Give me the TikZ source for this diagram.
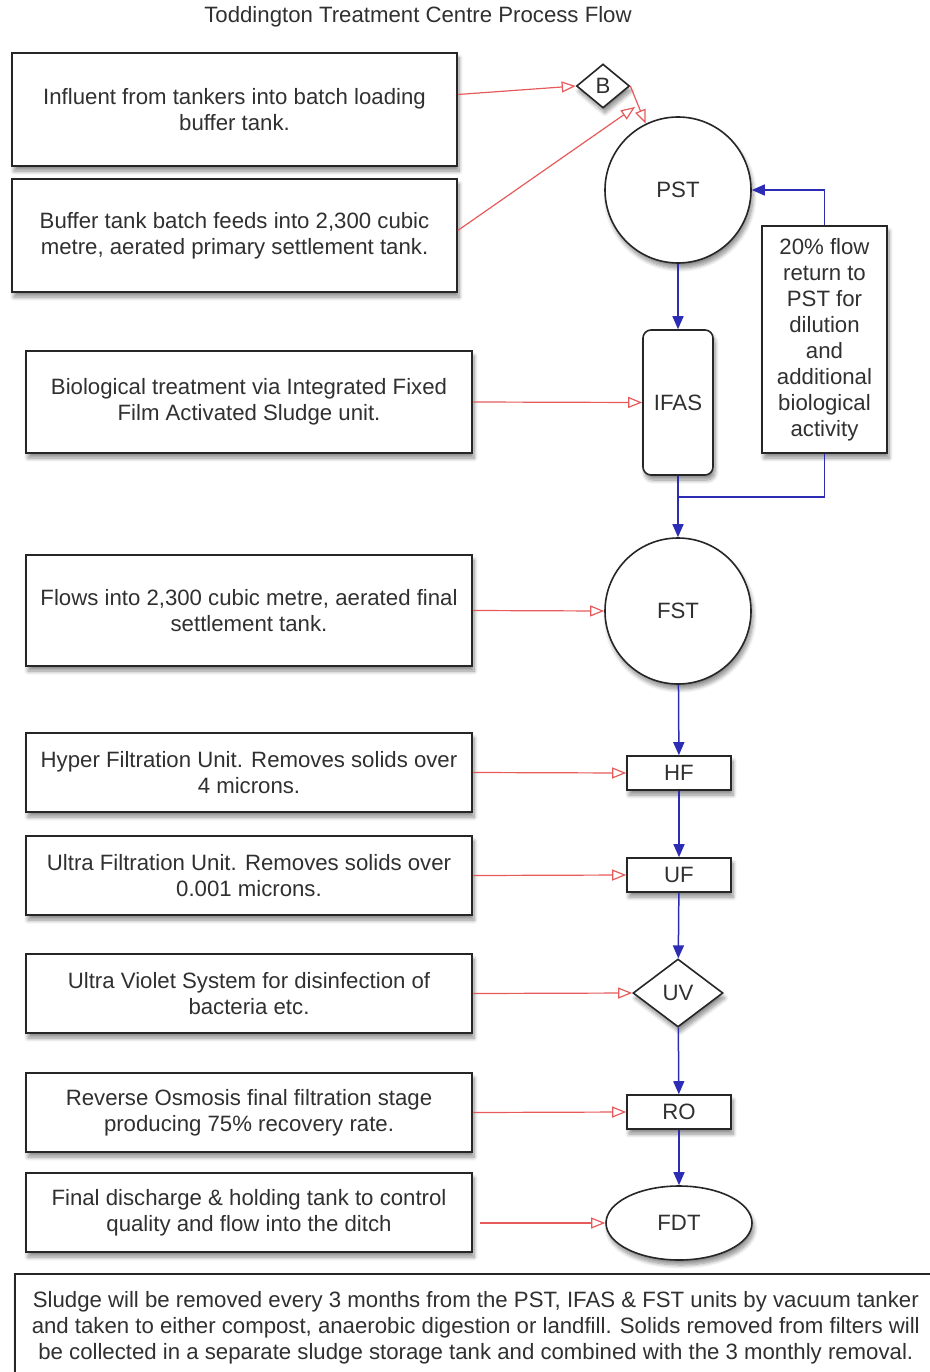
\documentclass[tikz,border=0pt]{standalone}
\usepackage{fontspec}
\setmainfont{Liberation Sans}
\usetikzlibrary{arrows.meta,shapes.geometric,shadows.blur}
\definecolor{txt}{HTML}{303030}
\definecolor{redl}{HTML}{E65A5C}
\definecolor{bluel}{HTML}{2C2CB4}
\begin{document}
\begin{tikzpicture}[x=1pt,y=-1pt,
  font=\fontsize{22.2}{26}\selectfont,
  every node/.style={text=txt},
  shade box/.style={blur shadow={shadow xshift=2pt,shadow yshift=-5pt,shadow blur radius=4pt,shadow blur steps=8,shadow opacity=45}},
  box/.style={draw=black!85,line width=1.6pt,fill=white,align=center,inner sep=0pt,shade box},
  unit/.style={draw=black!85,line width=1.6pt,fill=white,inner sep=0pt,shade box},
  redarrow/.style={draw=redl,line width=1.2pt,-{Triangle[open,length=14pt,width=11pt]}},
  blueline/.style={draw=bluel,line width=1.5pt},
  bluearrow/.style={blueline,-{Triangle[length=13pt,width=11pt]}}]
\useasboundingbox (0,0) rectangle (929,1372);

\node (title) at (418,17) {Toddington Treatment Centre Process Flow};

% left description boxes
\node[box,minimum width=445,minimum height=113] (b1) at (234.5,109.5) {Influent from tankers into batch loading\\buffer tank.};
\node[box,minimum width=445,minimum height=113] (b2) at (234.5,235.5) {Buffer tank batch feeds into 2,300 cubic\\metre, aerated primary settlement tank.};
\node[box,minimum width=446,minimum height=102] (b3) at (249,402) {Biological treatment via Integrated Fixed\\Film Activated Sludge unit.};
\node[box,minimum width=446,minimum height=111] (b4) at (249,610.5) {Flows into 2,300 cubic metre, aerated final\\settlement tank.};
\node[box,minimum width=446,minimum height=79] (b5) at (249,772.5) {Hyper Filtration Unit. Removes solids over\\4 microns.};
\node[box,minimum width=446,minimum height=79] (b6) at (249,875.5) {Ultra Filtration Unit. Removes solids over\\0.001 microns.};
\node[box,minimum width=446,minimum height=79] (b7) at (249,993.5) {Ultra Violet System for disinfection of\\bacteria etc.};
\node[box,minimum width=446,minimum height=79] (b8) at (249,1112.5) {Reverse Osmosis final filtration stage\\producing 75\% recovery rate.};
\node[box,minimum width=446,minimum height=79] (b9) at (249,1212.5) {Final discharge \& holding tank to control\\quality and flow into the ditch};

% process units
\node[unit,diamond,minimum width=53,minimum height=44] (B) at (603,86) {B};
\node[unit,circle,minimum size=146] (pst) at (678,190) {PST};
\node[unit,rounded corners=8pt,minimum width=70,minimum height=145] (ifas) at (678,402.5) {IFAS};
\node[box,minimum width=125,minimum height=227] (ret) at (824.5,339.5) {20\% flow\\return to\\PST for\\dilution\\and\\additional\\biological\\activity};
\node[unit,circle,minimum size=146] (fst) at (678,611) {FST};
\node[unit,minimum width=104,minimum height=34] (hf) at (679,773) {HF};
\node[unit,minimum width=104,minimum height=34] (uf) at (679,875) {UF};
\node[unit,diamond,minimum width=90,minimum height=68] (uv) at (678,993) {UV};
\node[unit,minimum width=104,minimum height=34] (ro) at (679,1112) {RO};
\node[unit,ellipse,minimum width=146,minimum height=74] (fdt) at (679,1223) {FDT};

% note
\node[box,anchor=north west,minimum width=922,minimum height=108] (note) at (14,1273) {Sludge will be removed every 3 months from the PST, IFAS \& FST units by vacuum tanker\\and taken to either compost, anaerobic digestion or landfill. Solids removed from filters will\\be collected in a separate sludge storage tank and combined with the 3 monthly removal.};

% blue flow
\coordinate (join) at (678,497);
\draw[bluearrow] (pst) -- (ifas);
\draw[bluearrow] (ifas) -- (fst);
\draw[blueline] (ret.south) |- (join);
\draw[bluearrow] (ret.north) |- (pst.east);
\draw[bluearrow] (fst) -- (hf);
\draw[bluearrow] (hf) -- (uf);
\draw[bluearrow] (uf) -- (uv);
\draw[bluearrow] (uv) -- (ro);
\draw[bluearrow] (ro) -- (fdt);

% red inputs
\coordinate (b2end) at (635,107);
\draw[redarrow] ([yshift=15pt]b1.east) -- (B.west);
\draw[redarrow] ([yshift=5pt]b2.east) -- (b2end);
\draw[redarrow] (B.east) -- (pst.116);
\draw[redarrow] (b3.east) -- (ifas.west);
\draw[redarrow] (b4.east) -- (fst.west);
\draw[redarrow] (b5.east) -- (hf.west);
\draw[redarrow] (b6.east) -- (uf.west);
\draw[redarrow] (b7.east) -- (uv.west);
\draw[redarrow] (b8.east) -- (ro.west);
\draw[redarrow,shorten <=7pt] (b9.east |- fdt.west) -- (fdt.west);
\end{tikzpicture}
\end{document}
